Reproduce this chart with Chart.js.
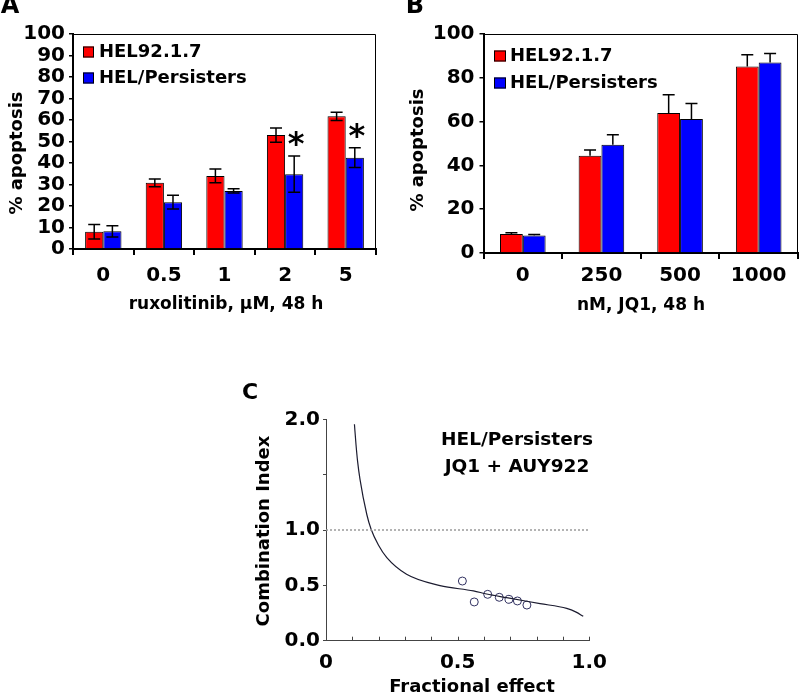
<!DOCTYPE html>
<html><head><meta charset="utf-8">
<script src="https://cdn.jsdelivr.net/npm/chart.js@4.4.0/dist/chart.umd.min.js"></script>
<style>
html,body{margin:0;padding:0;background:#fff;}
#wrap{position:relative;width:800px;height:699px;overflow:hidden;background:#fff;}
#wrap canvas{position:absolute;left:0;top:0;}
</style></head><body>
<div id="wrap">
<canvas id="cA" width="800" height="699"></canvas>
<canvas id="cB" width="800" height="699"></canvas>
<canvas id="cC" width="800" height="699"></canvas>
</div>
<script>
// ---------- DATA ----------
const seriesNames = ['HEL92.1.7', 'HEL/Persisters'];

// Panel A: ruxolitinib
const catA = ['0', '0.5', '1', '2', '5'];
const helA = [8.0, 30.8, 34.0, 53.0, 61.7];
const helAErr = [3.4, 1.8, 3.2, 3.3, 1.9];
const perA = [8.2, 21.8, 27.0, 34.8, 42.5];
const perAErr = [2.6, 3.2, 1.0, 8.4, 4.6];
const sigA = ['', '', '', '*', '*'];

// Panel B: JQ1
const catB = ['0', '250', '500', '1000'];
const helB = [8.7, 44.4, 63.9, 85.2];
const helBErr = [0.5, 2.6, 8.4, 5.3];
const perB = [8.0, 49.4, 61.2, 87.0];
const perBErr = [0.5, 4.6, 7.1, 4.1];

// Panel C: combination index
const curveFa = [0.108, 0.114, 0.120, 0.129, 0.155, 0.171, 0.199, 0.231, 0.306, 0.433, 0.560, 0.610, 0.686, 0.813, 0.914, 0.950, 0.977];
const curveCi = [1.955, 1.77, 1.62, 1.46, 1.14, 1.009, 0.864, 0.750, 0.600, 0.498, 0.450, 0.422, 0.389, 0.335, 0.292, 0.258, 0.220];
const ptFa = [0.518, 0.563, 0.614, 0.658, 0.695, 0.727, 0.763];
const ptCi = [0.539, 0.350, 0.419, 0.392, 0.374, 0.359, 0.322];
const refCI = 1.0;
const cXTickLabels = ['0', '', '', '', '', '0.5', '', '', '', '', '1.0'];
const cYTickLabels = ['0.0', '0.5', '1.0', '', '2.0'];

// ---------- STYLE ----------
const FONT = '"DejaVu Sans", "Liberation Sans", Arial, sans-serif';
Chart.defaults.font.family = FONT;
Chart.defaults.font.weight = 'bold';
Chart.defaults.font.size = 20;
Chart.defaults.color = '#000';
const RED = '#ff0000', BLUE = '#0000ff';

// ---------- PLUGINS ----------
const errorBarPlugin = {
  id: 'errorBars',
  afterDatasetsDraw(chart, args, o) {
    if (!o || !o.errs) return;
    const ctx = chart.ctx, ys = chart.scales.y;
    ctx.save();
    ctx.strokeStyle = '#000';
    ctx.lineWidth = o.lineWidth || 1.5;
    chart.data.datasets.forEach((ds, i) => {
      const meta = chart.getDatasetMeta(i);
      meta.data.forEach((bar, j) => {
        const v = ds.data[j], e = o.errs[i][j];
        const x = bar.x;
        const yt = ys.getPixelForValue(v + e);
        const yb = o.both ? ys.getPixelForValue(v - e) : ys.getPixelForValue(v);
        ctx.beginPath();
        ctx.moveTo(x, yt); ctx.lineTo(x, yb);
        ctx.moveTo(x - o.cap, yt); ctx.lineTo(x + o.cap, yt);
        if (o.both) { ctx.moveTo(x - o.cap, yb); ctx.lineTo(x + o.cap, yb); }
        ctx.stroke();
      });
    });
    if (o.sig) {
      const si = o.sigSeries;
      const meta = chart.getDatasetMeta(si);
      ctx.fillStyle = '#000';
      ctx.font = 'bold 32px ' + FONT;
      ctx.textAlign = 'center';
      ctx.textBaseline = 'middle';
      o.sig.forEach((s, j) => {
        if (!s) return;
        const bar = meta.data[j];
        const top = ys.getPixelForValue(chart.data.datasets[si].data[j] + o.errs[si][j]);
        ctx.fillText(s, bar.x + 2, top - 16 + 6);
      });
    }
    ctx.restore();
  }
};

const framePlugin = {
  id: 'frame',
  afterDraw(chart, args, o) {
    if (!o || !o.on) return;
    const {left, right, top, bottom} = chart.chartArea;
    const ctx = chart.ctx;
    ctx.save();
    ctx.strokeStyle = '#000';
    ctx.lineWidth = 1;
    ctx.beginPath();
    ctx.moveTo(left, top + 0.5);
    ctx.lineTo(right - 0.5, top + 0.5);
    ctx.lineTo(right - 0.5, bottom);
    ctx.stroke();
    ctx.restore();
  }
};

const boxLegendPlugin = {
  id: 'boxLegend',
  afterDraw(chart, args, o) {
    if (!o || !o.x) return;
    const ctx = chart.ctx;
    ctx.save();
    ctx.font = 'bold ' + o.size + 'px ' + FONT;
    ctx.textAlign = 'left';
    ctx.textBaseline = 'middle';
    chart.data.datasets.forEach((ds, i) => {
      const cy = o.y + i * o.dy;
      ctx.fillStyle = ds.backgroundColor;
      ctx.fillRect(o.x, cy - o.bh / 2, o.bw, o.bh);
      ctx.strokeStyle = '#000';
      ctx.lineWidth = 1;
      ctx.strokeRect(o.x + 0.5, cy - o.bh / 2 + 0.5, o.bw - 1, o.bh - 1);
      ctx.fillStyle = '#000';
      ctx.fillText(ds.label, o.x + o.bw + o.gap, cy);
    });
    ctx.restore();
  }
};

const textPlugin = {
  id: 'texts',
  afterDraw(chart, args, o) {
    if (!o || !o.items) return;
    const ctx = chart.ctx;
    o.items.forEach(it => {
      ctx.save();
      ctx.font = 'bold ' + it.size + 'px ' + FONT;
      ctx.fillStyle = '#000';
      ctx.textAlign = 'center';
      ctx.textBaseline = 'middle';
      ctx.translate(it.x, it.y);
      if (it.rot) ctx.rotate(it.rot);
      ctx.fillText(it.text, 0, 0);
      ctx.restore();
    });
  }
};

const innerTickPlugin = {
  id: 'innerTicks',
  afterDraw(chart, args, o) {
    if (!o || !o.len) return;
    const xs = chart.scales.x, ctx = chart.ctx;
    const b = chart.chartArea.bottom;
    ctx.save();
    ctx.strokeStyle = o.color;
    ctx.lineWidth = 1;
    ctx.beginPath();
    xs.ticks.forEach(t => {
      const px = Math.round(xs.getPixelForValue(t.value)) + 0.5;
      ctx.moveTo(px, b);
      ctx.lineTo(px, b - o.len);
    });
    ctx.stroke();
    ctx.restore();
  }
};

const allPlugins = [errorBarPlugin, framePlugin, boxLegendPlugin, textPlugin, innerTickPlugin];

function barChart(canvasId, cats, s1, s2, cfg) {
  return new Chart(document.getElementById(canvasId), {
    type: 'bar',
    data: {
      labels: cats,
      datasets: [
        {label: seriesNames[0], data: s1, backgroundColor: RED, borderColor: '#000', borderWidth: 1},
        {label: seriesNames[1], data: s2, backgroundColor: BLUE, borderColor: '#000', borderWidth: 1}
      ]
    },
    options: {
      responsive: false,
      animation: false,
      events: [],
      layout: {padding: cfg.padding},
      datasets: {bar: {categoryPercentage: cfg.catPct, barPercentage: 1.0}},
      plugins: {
        legend: {display: false},
        tooltip: {enabled: false},
        errorBars: cfg.errorBars,
        frame: {on: true},
        boxLegend: cfg.legend,
        texts: {items: cfg.texts}
      },
      scales: {
        x: {
          afterFit(s) { s.height = cfg.xHeight; },
          grid: {display: true, drawOnChartArea: false, drawTicks: true, tickLength: 6, color: '#000', lineWidth: 2, offset: true},
          border: {display: true, color: '#000', width: 2},
          ticks: {padding: cfg.xTickPad, font: {size: 20}, color: '#000', maxRotation: 0, autoSkip: false}
        },
        y: {
          min: 0, max: 100,
          afterFit(s) { s.width = cfg.yWidth; },
          ticks: {stepSize: cfg.yStep, autoSkip: false, padding: cfg.yTickPad, font: {size: 20}, color: '#000'},
          grid: {drawOnChartArea: false, drawTicks: true, tickLength: 4, color: '#000', lineWidth: 1.5},
          border: {display: true, color: '#000', width: 2}
        }
      }
    },
    plugins: allPlugins
  });
}

// Panel A
barChart('cA', catA, helA, perA, {
  padding: {left: 0, top: 34, right: 424, bottom: 379},
  xHeight: 71, yWidth: 73, catPct: 0.6, yStep: 10, xTickPad: 9, yTickPad: 4,
  errorBars: {errs: [helAErr, perAErr], both: true, cap: 6, lineWidth: 1.5, sig: sigA, sigSeries: 1},
  legend: {x: 83, y: 52, dy: 26, bw: 11, bh: 11, gap: 5, size: 18},
  texts: [
    {text: 'A', x: 10, y: 7, size: 24},
    {text: '% apoptosis', x: 17, y: 153, size: 18, rot: -Math.PI / 2},
    {text: 'ruxolitinib, µM, 48 h', x: 226, y: 305, size: 17}
  ]
});

// Panel B
barChart('cB', catB, helB, perB, {
  padding: {left: 400, top: 34, right: 2, bottom: 376},
  xHeight: 70, yWidth: 83.5, catPct: 0.58, yStep: 20, xTickPad: 5, yTickPad: 5,
  errorBars: {errs: [helBErr, perBErr], both: false, cap: 6, lineWidth: 1.5},
  legend: {x: 494, y: 56, dy: 27, bw: 12, bh: 11, gap: 4, size: 18},
  texts: [
    {text: 'B', x: 415, y: 7, size: 24},
    {text: '% apoptosis', x: 418, y: 150, size: 18, rot: -Math.PI / 2},
    {text: 'nM, JQ1, 48 h', x: 641, y: 306, size: 17}
  ]
});

// Panel C
new Chart(document.getElementById('cC'), {
  type: 'scatter',
  data: {
    datasets: [
      {
        label: 'ref', showLine: true, pointRadius: 0,
        data: [{x: 0, y: refCI}, {x: 1, y: refCI}],
        borderColor: '#9a9a9a', borderWidth: 1.5, borderDash: [2, 2]
      },
      {
        label: 'curve', showLine: true, pointRadius: 0, cubicInterpolationMode: 'monotone',
        data: curveFa.map((f, i) => ({x: f, y: curveCi[i]})),
        borderColor: '#1c1c30', borderWidth: 1.2
      },
      {
        label: 'points', showLine: false, pointRadius: 4, pointStyle: 'circle',
        data: ptFa.map((f, i) => ({x: f, y: ptCi[i]})),
        borderColor: '#303060', backgroundColor: 'rgba(255,255,255,0)', borderWidth: 1
      }
    ]
  },
  options: {
    responsive: false,
    animation: false,
    events: [],
    layout: {padding: {left: 250, top: 419.3, right: 210.7, bottom: 0}},
    plugins: {
      legend: {display: false},
      tooltip: {enabled: false},
      innerTicks: {len: 4, color: '#444'},
      texts: {items: [
        {text: 'C', x: 250, y: 393, size: 22},
        {text: 'HEL/Persisters', x: 517, y: 440, size: 18.5},
        {text: 'JQ1 + AUY922', x: 517, y: 467, size: 18.5},
        {text: 'Combination Index', x: 264, y: 531, size: 18, rot: -Math.PI / 2},
        {text: 'Fractional effect', x: 472, y: 687, size: 18}
      ]}
    },
    scales: {
      x: {
        type: 'linear', min: 0, max: 1,
        afterFit(s) { s.height = 58.3; },
        grid: {display: false},
        border: {display: true, color: '#444', width: 1},
        ticks: {
          stepSize: 0.1, autoSkip: false, maxRotation: 0, padding: 2, font: {size: 20}, color: '#000',
          callback: (v) => cXTickLabels[Math.round(v * 10)] ?? ''
        }
      },
      y: {
        min: 0, max: 2,
        afterFit(s) { s.width = 76; },
        grid: {display: true, drawOnChartArea: false, drawTicks: true, tickLength: 3, color: '#444', lineWidth: 1},
        border: {display: true, color: '#444', width: 1},
        ticks: {
          stepSize: 0.5, autoSkip: false, padding: 3, font: {size: 20}, color: '#000',
          callback: (v) => cYTickLabels[Math.round(v * 2)] ?? ''
        }
      }
    }
  },
  plugins: allPlugins
});
</script>
</body></html>
